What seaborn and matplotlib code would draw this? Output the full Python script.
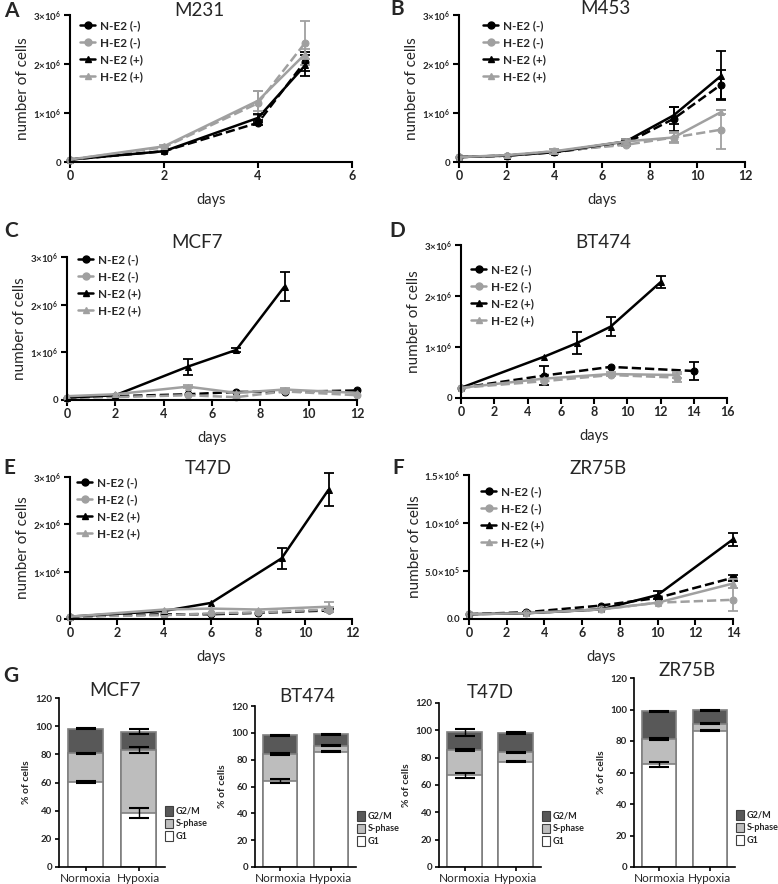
import matplotlib
matplotlib.use("Agg")
import matplotlib.pyplot as plt
from matplotlib.lines import Line2D
from matplotlib.patches import Patch
import seaborn as sns

# ---- growth curves (cells, in units of 1e6) ----
series_labels = ["N-E2 (-)", "H-E2 (-)", "N-E2 (+)", "H-E2 (+)"]

# A  M231
a_days = [0, 2, 4, 5]
a_n_neg = [0.05, 0.22, 0.80, 2.05]
a_h_neg = [0.05, 0.30, 1.20, 2.43]
a_n_pos = [0.05, 0.22, 0.90, 1.97]
a_h_pos = [0.05, 0.32, 1.25, 2.20]
a_n_neg_err = [0, 0, 0.05, 0.20]
a_h_neg_err = [0, 0, 0.25, 0.45]
a_n_pos_err = [0, 0, 0.08, 0.22]
a_h_pos_err = [0, 0.02, 0.20, 0.10]

# B  M453
b_days = [0, 2, 4, 7, 9, 11]
b_n_neg = [0.10, 0.13, 0.20, 0.38, 0.88, 1.58]
b_h_neg = [0.10, 0.13, 0.22, 0.35, 0.50, 0.66]
b_n_pos = [0.10, 0.13, 0.20, 0.42, 0.95, 1.76]
b_h_pos = [0.10, 0.14, 0.22, 0.42, 0.50, 1.02]
b_n_neg_err = [0, 0, 0, 0.05, 0.25, 0.30]
b_h_neg_err = [0, 0, 0.05, 0.03, 0.10, 0.40]
b_n_pos_err = [0, 0, 0, 0.05, 0.18, 0.50]
b_h_pos_err = [0, 0, 0.05, 0.05, 0.12, 0.05]

# C  MCF7
c_days = [0, 2, 5, 7, 9, 12]
c_days_n_pos = [0, 2, 5, 7, 9]
c_n_neg = [0.05, 0.08, 0.12, 0.17, 0.17, 0.20]
c_h_neg = [0.05, 0.06, 0.10, 0.06, 0.18, 0.10]
c_n_pos = [0.05, 0.10, 0.70, 1.05, 2.38]
c_h_pos = [0.08, 0.12, 0.28, 0.15, 0.22, 0.15]
c_n_neg_err = [0, 0, 0, 0, 0, 0]
c_h_neg_err = [0, 0, 0, 0, 0, 0]
c_n_pos_err = [0, 0, 0.17, 0.05, 0.30]
c_h_pos_err = [0, 0, 0.03, 0, 0.03, 0]

# D  BT474
d_days_n_neg = [0, 5, 9, 14]
d_days_n_pos = [0, 5, 7, 9, 12]
d_days_h = [0, 5, 9, 13]
d_n_neg = [0.20, 0.44, 0.61, 0.53]
d_h_neg = [0.20, 0.33, 0.45, 0.40]
d_n_pos = [0.20, 0.81, 1.08, 1.40, 2.27]
d_h_pos = [0.20, 0.38, 0.47, 0.45]
d_n_neg_err = [0, 0.19, 0, 0.17]
d_h_neg_err = [0, 0, 0, 0.08]
d_n_pos_err = [0, 0, 0.22, 0.18, 0.12]
d_h_pos_err = [0, 0, 0.03, 0.05]

# E  T47D
e_days = [0, 4, 6, 8, 11]
e_days_n_pos = [0, 4, 6, 9, 11]
e_n_neg = [0.05, 0.10, 0.10, 0.13, 0.18]
e_h_neg = [0.05, 0.08, 0.12, 0.14, 0.20]
e_n_pos = [0.05, 0.17, 0.34, 1.28, 2.73]
e_h_pos = [0.05, 0.20, 0.22, 0.20, 0.26]
e_n_neg_err = [0, 0, 0, 0, 0.03]
e_h_neg_err = [0, 0, 0, 0, 0.05]
e_n_pos_err = [0, 0, 0, 0.22, 0.35]
e_h_pos_err = [0, 0, 0, 0, 0.10]

# F  ZR75B
f_days = [0, 3, 7, 10, 14]
f_n_neg = [0.05, 0.07, 0.14, 0.22, 0.43]
f_h_neg = [0.05, 0.06, 0.10, 0.17, 0.20]
f_n_pos = [0.05, 0.06, 0.10, 0.25, 0.83]
f_h_pos = [0.05, 0.06, 0.10, 0.17, 0.37]
f_n_neg_err = [0, 0, 0, 0, 0.03]
f_h_neg_err = [0, 0, 0, 0, 0.12]
f_n_pos_err = [0, 0, 0, 0.04, 0.07]
f_h_pos_err = [0, 0, 0, 0, 0.05]

# ---- cell cycle (% of cells) ----
conditions = ["Normoxia", "Hypoxia"]
phase_names = ["G2/M", "S-phase", "G1"]

mcf7_g1 = [60.5, 38.5]
mcf7_s = [20.1, 44.8]
mcf7_g2m = [17.5, 12.8]
mcf7_err = [[0.5, 3.5], [0.5, 2.2], [0.3, 1.8]]   # G1, G1+S, total

bt474_g1 = [64.0, 86.0]
bt474_s = [20.2, 4.4]
bt474_g2m = [14.1, 8.6]
bt474_err = [[1.5, 0.5], [0.4, 0.5], [0.3, 0.3]]

t47d_g1 = [67.0, 77.0]
t47d_s = [18.7, 7.0]
t47d_g2m = [12.8, 14.0]
t47d_err = [[2.0, 0.4], [1.0, 0.5], [2.5, 0.6]]

zr75b_g1 = [65.2, 86.6]
zr75b_s = [16.2, 4.4]
zr75b_g2m = [17.4, 8.5]
zr75b_err = [[1.5, 0.5], [0.7, 0.5], [0.5, 0.3]]

BLACK = "#000000"
GREY = "#a0a0a0"
PHASE_COLORS = {"G2/M": "#585858", "S-phase": "#bdbdbd", "G1": "#ffffff"}
BAR_EDGE = "#808080"

W, H = 778, 884


def box(l, r, t, b):
    return [l / W, 1 - b / H, (r - l) / W, (b - t) / H]


def fig_text(fig, x, y, s, **kw):
    fig.text(x / W, 1 - y / H, s, ha="center", va="center", **kw)


def style_axes(ax, lw=1.5, length=4):
    sns.despine(ax=ax)
    for sp in ["left", "bottom"]:
        ax.spines[sp].set_linewidth(lw)
        ax.spines[sp].set_color("black")
    ax.tick_params(direction="out", length=length, width=lw, color="black", pad=2)


def growth_panel(fig, ax, series, xmax, xstep, yticks, yticklabels, leg_xy):
    for lab, d, v, e in series:
        neg = "(-)" in lab
        col = BLACK if lab.startswith("N") else GREY
        sns.lineplot(x=d, y=v, ax=ax, color=col, linestyle="--" if neg else "-",
                     marker="o" if neg else "^", markersize=5, markeredgecolor=col,
                     linewidth=1.8, clip_on=False, legend=False, errorbar=None)
        ed = [(x, y, er) for x, y, er in zip(d, v, e) if er > 0]
        if ed:
            ax.errorbar([p[0] for p in ed], [p[1] for p in ed], yerr=[p[2] for p in ed],
                        fmt="none", ecolor=col, elinewidth=1.3, capsize=3.5, capthick=1.3,
                        clip_on=False)
    ax.set_xlim(0, xmax)
    ax.set_xticks(range(0, xmax + 1, xstep))
    ax.set_ylim(0, yticks[-1])
    ax.set_yticks(yticks)
    ax.set_yticklabels(yticklabels)
    style_axes(ax)
    ax.tick_params(axis="x", labelsize=9)
    ax.tick_params(axis="y", labelsize=7)
    for t in ax.get_xticklabels() + ax.get_yticklabels():
        t.set_fontweight("bold")
    ax.set_xlabel("days", fontsize=10.5, labelpad=8)
    ax.set_ylabel("number of cells", fontsize=11, labelpad=2)
    handles = []
    for lab in series_labels:
        neg = "(-)" in lab
        col = BLACK if lab.startswith("N") else GREY
        handles.append(Line2D([], [], color=col, linewidth=1.8, marker="o" if neg else "^",
                              markersize=5, label=lab))
    ax.legend(handles=handles, loc="upper left", frameon=False,
              bbox_to_anchor=(leg_xy[0] / W, 1 - leg_xy[1] / H), bbox_transform=fig.transFigure,
              borderpad=0, borderaxespad=0, handlelength=1.3, handletextpad=0.4,
              labelspacing=0.5, prop={"size": 8.5, "weight": "bold"})


def cycle_panel(fig, ax, g1, s, g2m, err, leg_xy):
    g1s = [a + b for a, b in zip(g1, s)]
    total = [a + b for a, b in zip(g1s, g2m)]
    for vals, ph in [(total, "G2/M"), (g1s, "S-phase"), (g1, "G1")]:
        sns.barplot(x=conditions, y=vals, ax=ax, color=PHASE_COLORS[ph], saturation=1,
                    edgecolor=BAR_EDGE, linewidth=1.2, width=0.67, errorbar=None)
    for vals, er in zip([g1, g1s, total], err):
        ax.errorbar([0, 1], vals, yerr=er, fmt="none", ecolor="black", elinewidth=1,
                    capsize=7, capthick=1.5)
    ax.set_xlim(-0.5, 1.5)
    ax.set_ylim(0, 120)
    ax.set_yticks(range(0, 121, 20))
    style_axes(ax, lw=1.2, length=3)
    ax.tick_params(axis="y", labelsize=7)
    ax.tick_params(axis="x", labelsize=8.5, pad=1)
    for t in ax.get_yticklabels():
        t.set_fontweight("bold")
    ax.set_xlabel("")
    ax.set_ylabel("% of cells", fontsize=7.5, fontweight="bold", labelpad=3)
    handles = [Patch(facecolor=PHASE_COLORS[p], edgecolor="#404040", linewidth=0.8, label=p)
               for p in phase_names]
    ax.legend(handles=handles, loc="upper left", frameon=False,
              bbox_to_anchor=(leg_xy[0] / W, 1 - leg_xy[1] / H), bbox_transform=fig.transFigure,
              borderpad=0, borderaxespad=0, handlelength=0.9, handleheight=1.25,
              handletextpad=0.25, labelspacing=0.3, prop={"size": 6.5, "weight": "bold"})


def main():
    sns.set_theme(style="ticks")
    plt.rcParams["font.family"] = ["Lato", "DejaVu Sans"]
    plt.rcParams["mathtext.default"] = "regular"

    fig = plt.figure(figsize=(W / 100, H / 100), dpi=100)

    m6 = ["0", r"1×10$^{6}$", r"2×10$^{6}$", r"3×10$^{6}$"]

    axA = fig.add_axes(box(70, 352, 15, 162))
    growth_panel(fig, axA, [
        ("N-E2 (-)", a_days, a_n_neg, a_n_neg_err),
        ("H-E2 (-)", a_days, a_h_neg, a_h_neg_err),
        ("N-E2 (+)", a_days, a_n_pos, a_n_pos_err),
        ("H-E2 (+)", a_days, a_h_pos, a_h_pos_err)],
        6, 2, [0, 1, 2, 3], m6, (80, 20))

    axB = fig.add_axes(box(459, 745, 15, 162))
    growth_panel(fig, axB, [
        ("N-E2 (-)", b_days, b_n_neg, b_n_neg_err),
        ("H-E2 (-)", b_days, b_h_neg, b_h_neg_err),
        ("N-E2 (+)", b_days, b_n_pos, b_n_pos_err),
        ("H-E2 (+)", b_days, b_h_pos, b_h_pos_err)],
        12, 2, [0, 1, 2, 3], m6, (483, 20))

    axC = fig.add_axes(box(67, 357, 257, 400))
    growth_panel(fig, axC, [
        ("N-E2 (-)", c_days, c_n_neg, c_n_neg_err),
        ("H-E2 (-)", c_days, c_h_neg, c_h_neg_err),
        ("N-E2 (+)", c_days_n_pos, c_n_pos, c_n_pos_err),
        ("H-E2 (+)", c_days, c_h_pos, c_h_pos_err)],
        12, 2, [0, 1, 2, 3], m6, (78, 254))

    axD = fig.add_axes(box(461, 727, 245, 398))
    growth_panel(fig, axD, [
        ("N-E2 (-)", d_days_n_neg, d_n_neg, d_n_neg_err),
        ("H-E2 (-)", d_days_h, d_h_neg, d_h_neg_err),
        ("N-E2 (+)", d_days_n_pos, d_n_pos, d_n_pos_err),
        ("H-E2 (+)", d_days_h, d_h_pos, d_h_pos_err)],
        16, 2, [0, 1, 2, 3], m6, (471, 264))

    axE = fig.add_axes(box(70, 352, 477, 619))
    growth_panel(fig, axE, [
        ("N-E2 (-)", e_days, e_n_neg, e_n_neg_err),
        ("H-E2 (-)", e_days, e_h_neg, e_h_neg_err),
        ("N-E2 (+)", e_days_n_pos, e_n_pos, e_n_pos_err),
        ("H-E2 (+)", e_days, e_h_pos, e_h_pos_err)],
        12, 2, [0, 1, 2, 3], m6, (77, 477))

    axF = fig.add_axes(box(469, 733, 475, 619))
    growth_panel(fig, axF, [
        ("N-E2 (-)", f_days, f_n_neg, f_n_neg_err),
        ("H-E2 (-)", f_days, f_h_neg, f_h_neg_err),
        ("N-E2 (+)", f_days, f_n_pos, f_n_pos_err),
        ("H-E2 (+)", f_days, f_h_pos, f_h_pos_err)],
        14, 2, [0, 0.5, 1.0, 1.5],
        ["0.0", r"5.0×10$^{5}$", r"1.0×10$^{6}$", r"1.5×10$^{6}$"], (481, 486))

    axG1 = fig.add_axes(box(59, 165, 698, 867))
    cycle_panel(fig, axG1, mcf7_g1, mcf7_s, mcf7_g2m, mcf7_err, (165, 806))
    axG2 = fig.add_axes(box(255, 356, 706, 867))
    cycle_panel(fig, axG2, bt474_g1, bt474_s, bt474_g2m, bt474_err, (357, 811))
    axG3 = fig.add_axes(box(439, 541, 703, 867))
    cycle_panel(fig, axG3, t47d_g1, t47d_s, t47d_g2m, t47d_err, (542, 811))
    axG4 = fig.add_axes(box(634, 735, 678, 867))
    cycle_panel(fig, axG4, zr75b_g1, zr75b_s, zr75b_g2m, zr75b_err, (736, 810))

    # titles and panel letters
    for x, y, s in [(199, 10, "M231"), (605, 8, "M453"), (197, 242, "MCF7"),
                    (603, 242, "BT474"), (208, 469, "T47D"), (598, 469, "ZR75B"),
                    (115, 690, "MCF7"), (307, 696, "BT474"), (490, 693, "T47D"),
                    (687, 670, "ZR75B")]:
        fig_text(fig, x, y, s, fontsize=13.5)
    for x, y, s in [(11, 11, "A"), (397, 9, "B"), (11, 231, "C"), (397, 231, "D"),
                    (9, 468, "E"), (398, 468, "F"), (11, 676, "G")]:
        fig_text(fig, x, y, s, fontsize=15, fontweight="bold")

    fig.savefig("out.png", dpi=100)
    plt.close(fig)


if __name__ == "__main__":
    main()
